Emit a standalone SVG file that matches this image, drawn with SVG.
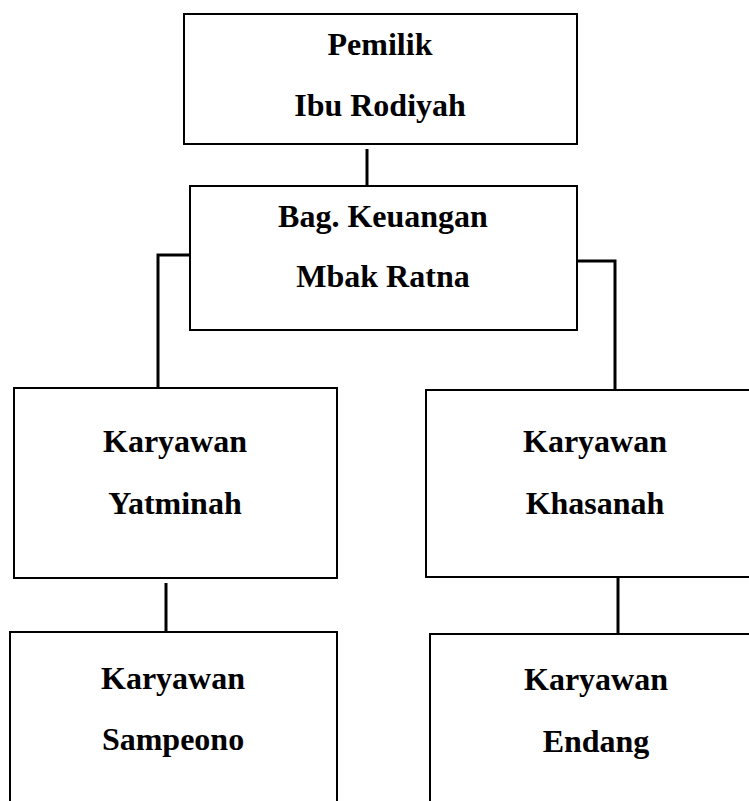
<svg xmlns="http://www.w3.org/2000/svg" width="749" height="801" viewBox="0 0 749 801">
<style>
.box{fill:#fff;stroke:#000;stroke-width:2}
.lbl{font-family:"Liberation Serif","Times New Roman",serif;font-weight:bold;font-size:32px;text-anchor:middle;fill:#000}
.con{fill:none;stroke:#000;stroke-width:3}
</style>
<rect width="749" height="801" fill="#fff"/>
<g id="connectors">
<line class="con" x1="367" y1="149" x2="367" y2="187"/>
<polyline class="con" points="190,255 158,255 158,388"/>
<polyline class="con" points="578,261 615,261 615,390"/>
<line class="con" x1="166" y1="583" x2="166" y2="632"/>
<line class="con" x1="618" y1="578" x2="618" y2="634"/>
</g>
<g id="pemilik">
<rect class="box" x="184" y="14" width="393" height="130"/>
<text class="lbl" x="380" y="55">Pemilik</text>
<text class="lbl" x="380" y="116">Ibu Rodiyah</text>
</g>
<g id="keuangan">
<rect class="box" x="190" y="186" width="387" height="144"/>
<text class="lbl" x="383" y="227">Bag. Keuangan</text>
<text class="lbl" x="383" y="287">Mbak Ratna</text>
</g>
<g id="yatminah">
<rect class="box" x="14" y="388" width="323" height="190"/>
<text class="lbl" x="175" y="452">Karyawan</text>
<text class="lbl" x="175" y="514">Yatminah</text>
</g>
<g id="khasanah">
<rect class="box" x="426" y="390" width="330" height="187"/>
<text class="lbl" x="595" y="452">Karyawan</text>
<text class="lbl" x="595" y="514">Khasanah</text>
</g>
<g id="sampeono">
<rect class="box" x="10" y="632" width="327" height="180"/>
<text class="lbl" x="173" y="689">Karyawan</text>
<text class="lbl" x="173" y="750">Sampeono</text>
</g>
<g id="endang">
<rect class="box" x="430" y="634" width="330" height="180"/>
<text class="lbl" x="596" y="690">Karyawan</text>
<text class="lbl" x="596" y="752">Endang</text>
</g>
</svg>
